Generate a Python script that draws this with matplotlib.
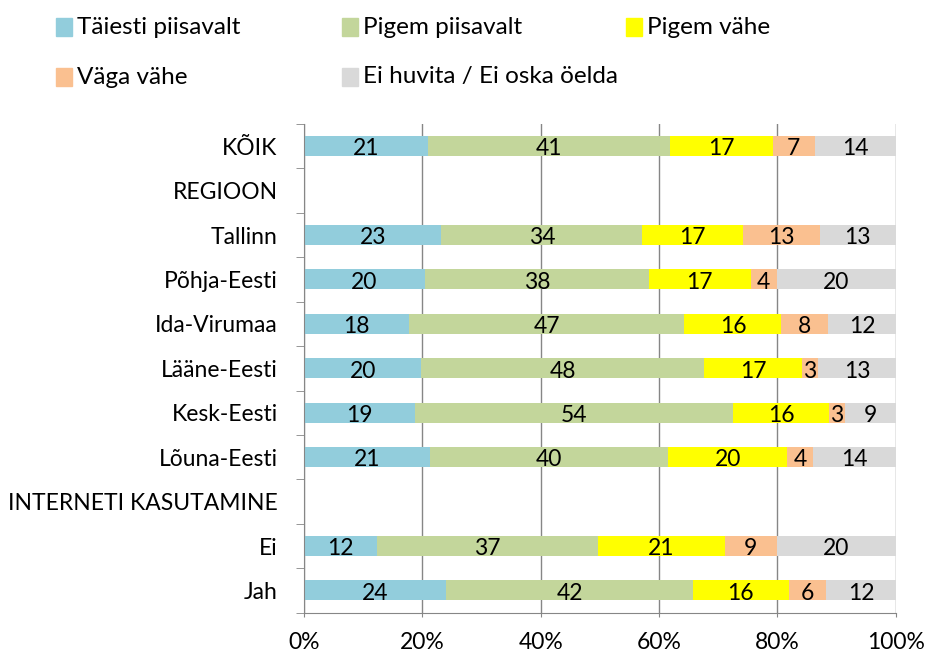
import matplotlib
matplotlib.use('Agg')
import matplotlib.pyplot as plt
from matplotlib.patches import Rectangle
import numpy as np

plt.rcParams['font.family'] = ['Lato', 'DejaVu Sans']

# rows of the chart (empty rows are group headings)
rows = ['KÕIK', 'REGIOON', 'Tallinn', 'Põhja-Eesti', 'Ida-Virumaa', 'Lääne-Eesti',
        'Kesk-Eesti', 'Lõuna-Eesti', 'INTERNETI KASUTAMINE', 'Ei', 'Jah']

series = ['Täiesti piisavalt', 'Pigem piisavalt', 'Pigem vähe', 'Väga vähe',
          'Ei huvita / Ei oska öelda']
colors = ['#92CDDC', '#C3D69B', '#FFFF00', '#FAC090', '#D9D9D9']

# percent values per series (None = heading row without bar)
taiesti = [20.9, None, 23.2, 20.4, 17.7, 19.8, 18.7, 21.2, None, 12.3, 24.0]
pigem_p = [41.0, None, 34.0, 37.9, 46.6, 47.8, 53.8, 40.4, None, 37.4, 41.8]
pigem_v = [17.4, None, 17.0, 17.2, 16.4, 16.6, 16.3, 20.1, None, 21.4, 16.1]
vaga_v  = [7.0,  None, 13.0, 4.4,  7.8,  2.7,  2.6,  4.3,  None, 8.8,  6.4]
ei_huv  = [13.7, None, 12.8, 20.1, 11.6, 13.2, 8.6,  14.0, None, 20.1, 11.7]

data = [taiesti, pigem_p, pigem_v, vaga_v, ei_huv]

fs = 16.5

fig = plt.figure(figsize=(9.3, 6.56), dpi=100)
ax = fig.add_axes([0.327, 0.066, 0.636, 0.745])

y = np.arange(len(rows))
left = np.zeros(len(rows))
for vals, col in zip(data, colors):
    v = np.array([0 if x is None else x for x in vals], dtype=float)
    ax.barh(y, v, left=left, height=0.45, color=col, edgecolor='none', zorder=2)
    for i, x in enumerate(vals):
        if x is None:
            continue
        ax.text(left[i] + x / 2, y[i] + 0.06, '%d' % round(x), ha='center', va='center',
                fontsize=fs, zorder=3)
    left = left + v

ax.set_xlim(0, 100)
ax.set_ylim(len(rows) - 0.5, -0.5)
ax.set_xticks(np.arange(0, 101, 20))
ax.set_xticklabels(['%d%%' % t for t in range(0, 101, 20)], fontsize=fs)
ax.set_yticks(y)
ax.set_yticklabels(rows, fontsize=fs)
ax.set_yticks(np.arange(-0.5, len(rows), 1), minor=True)
ax.tick_params(axis='y', which='major', length=0, pad=19)
ax.tick_params(axis='y', which='minor', length=5.5, color='#868686', direction='out')
ax.tick_params(axis='x', length=3, color='#868686', pad=11)
ax.grid(axis='x', color='#868686', linewidth=1, zorder=0)
for s in ['top', 'right']:
    ax.spines[s].set_visible(False)
for s in ['left', 'bottom']:
    ax.spines[s].set_color('#868686')

# legend drawn by hand to keep Excel-like spacing
leg_pos = [(56, 27), (342, 27), (626, 27), (56, 77), (342, 77)]
W, H = 930.0, 656.0
for (px, py), name, col in zip(leg_pos, series, colors):
    fig.add_artist(Rectangle((px / W, 1 - (py + 9) / H), 16 / W, 18 / H,
                             transform=fig.transFigure, color=col))
    fig.text((px + 21) / W, 1 - py / H, name, fontsize=17.5, va='center', ha='left')

fig.savefig('out.png', dpi=100)
